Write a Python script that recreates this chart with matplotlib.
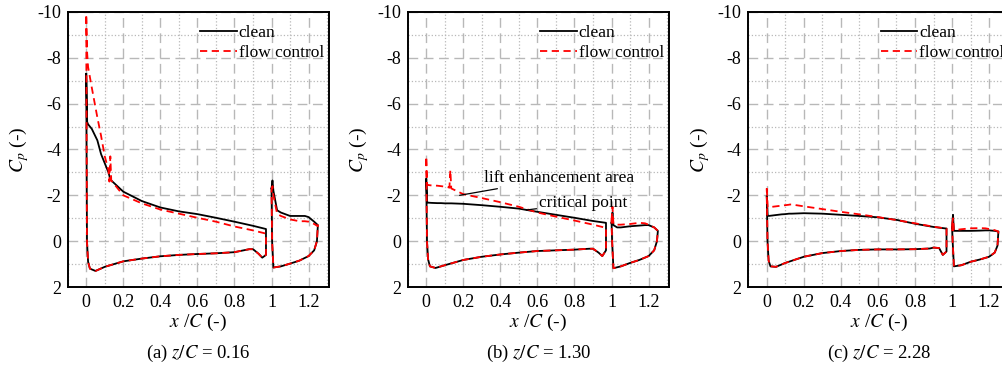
import matplotlib.pyplot as plt
import numpy as np
from matplotlib.ticker import MultipleLocator

plt.rcParams['font.family'] = ['Liberation Serif', 'DejaVu Serif']
plt.rcParams['mathtext.fontset'] = 'stix'
plt.rcParams['axes.unicode_minus'] = False

# chordwise stations (x/C)
x_up = [0, 0.005, 0.01, 0.03, 0.06, 0.08, 0.10, 0.12, 0.125, 0.13, 0.135,
        0.2, 0.3, 0.4, 0.5, 0.6, 0.7, 0.8, 0.9, 0.97]
x_lo = [0.004, 0.01, 0.02, 0.05, 0.1, 0.2, 0.3, 0.4, 0.5, 0.6, 0.7, 0.8,
        0.88, 0.9, 0.93, 0.95, 0.97]
xf_up = [1.0, 1.005, 1.01, 1.03, 1.05, 1.1, 1.15, 1.18, 1.2, 1.23, 1.25]
xf_lo = [1.003, 1.01, 1.05, 1.1, 1.15, 1.2, 1.23, 1.245, 1.25]

# z/C = 0.16
a_clean_up = [-7.3, -5.2, -5.1, -4.9, -4.4, -3.8, -3.4, -3.0, -2.85, -2.7, -2.65,
              -2.16, -1.75, -1.47, -1.3, -1.18, -1.02, -0.85, -0.67, -0.53]
a_fc_up = [-9.8, -8.2, -7.6, -6.7, -5.4, -4.6, -3.7, -3.1, -2.6, -3.7, -2.65,
           -2.0, -1.65, -1.38, -1.2, -1.02, -0.85, -0.64, -0.47, -0.33]
a_lo = [0.0, 0.9, 1.2, 1.3, 1.12, 0.88, 0.76, 0.66, 0.6, 0.56, 0.53, 0.48,
        0.35, 0.35, 0.55, 0.72, 0.6]
a_clean_fup = [-2.3, -2.65, -2.2, -1.35, -1.25, -1.1, -1.1, -1.1, -1.05, -0.85, -0.7]
a_fc_fup = [-2.2, -2.4, -2.0, -1.2, -1.1, -0.95, -0.87, -0.87, -0.85, -0.75, -0.65]
a_flo = [0.0, 1.15, 1.1, 0.98, 0.85, 0.65, 0.4, 0.0, -0.7]

# z/C = 1.30
b_clean_up = [-2.7, -1.7, -1.68, -1.67, -1.66, -1.66, -1.65, -1.65, -1.65, -1.65, -1.65,
              -1.63, -1.57, -1.5, -1.42, -1.28, -1.15, -1.02, -0.88, -0.8]
b_fc_up = [-3.6, -2.45, -2.45, -2.43, -2.42, -2.4, -2.38, -2.35, -2.33, -3.1, -2.3,
           -2.05, -1.88, -1.7, -1.5, -1.25, -1.07, -0.9, -0.72, -0.58]
b_lo = [0.0, 0.8, 1.1, 1.17, 1.05, 0.82, 0.68, 0.58, 0.5, 0.43, 0.4, 0.37,
        0.33, 0.33, 0.5, 0.65, 0.4]
b_clean_fup = [-0.8, -1.25, -0.7, -0.6, -0.6, -0.65, -0.68, -0.7, -0.7, -0.6, -0.45]
b_fc_fup = [-0.9, -1.5, -0.75, -0.72, -0.72, -0.75, -0.8, -0.78, -0.72, -0.6, -0.45]
b_flo = [0.0, 1.18, 1.1, 0.95, 0.82, 0.65, 0.4, 0.0, -0.45]

# z/C = 2.28
c_clean_up = [-1.95, -1.12, -1.1, -1.12, -1.15, -1.17, -1.18, -1.2, -1.2, -1.2, -1.2,
              -1.22, -1.2, -1.15, -1.1, -1.04, -0.93, -0.76, -0.62, -0.55]
c_fc_up = [-2.3, -1.48, -1.48, -1.5, -1.53, -1.55, -1.57, -1.59, -1.6, -1.6, -1.6,
           -1.52, -1.4, -1.28, -1.17, -1.05, -0.92, -0.78, -0.63, -0.55]
c_lo = [0.0, 0.85, 1.1, 1.12, 0.95, 0.68, 0.52, 0.43, 0.38, 0.36, 0.36, 0.35,
        0.32, 0.28, 0.3, 0.6, 0.45]
c_clean_fup = [-0.6, -1.15, -0.45, -0.45, -0.45, -0.45, -0.46, -0.47, -0.47, -0.45, -0.42]
c_fc_fup = [-0.7, -1.0, -0.48, -0.5, -0.52, -0.56, -0.57, -0.56, -0.53, -0.48, -0.42]
c_flo = [0.0, 1.1, 1.05, 0.9, 0.8, 0.68, 0.5, 0.2, -0.42]

captions = ['(a) $z/C$ = 0.16', '(b) $z/C$ = 1.30', '(c) $z/C$ = 2.28']
panels = [
    (a_clean_up, a_fc_up, a_lo, a_clean_fup, a_fc_fup, a_flo),
    (b_clean_up, b_fc_up, b_lo, b_clean_fup, b_fc_fup, b_flo),
    (c_clean_up, c_fc_up, c_lo, c_clean_fup, c_fc_fup, c_flo),
]


def loop(xu, cu, xl, cl):
    # upper surface LE->TE, back along lower surface TE->LE, close at LE
    xs = np.r_[xu, xl[::-1], xu[0]]
    cs = np.r_[cu, cl[::-1], cu[0]]
    return xs, cs


fig = plt.figure(figsize=(10.03, 3.76), dpi=100)
lefts = [0.0675, 0.4065, 0.746]
width = 0.2605

for i, (cu, fu, lo, cfu, ffu, flo) in enumerate(panels):
    ax = fig.add_axes([lefts[i], 0.2367, width, 0.7314])

    for up, fup, style in [(cu, cfu, dict(color='black', ls='-', lw=1.3, label='clean')),
                           (fu, ffu, dict(color='red', ls=(0, (4, 2.5)), lw=1.3, label='flow control'))]:
        xs, cs = loop(x_up, up, x_lo, lo)
        ax.plot(xs, cs, **style)
        style.pop('label')
        xs, cs = loop(xf_up, fup, xf_lo, flo)
        ax.plot(xs, cs, **style)

    ax.set_xlim(-0.1, 1.31)
    ax.set_ylim(2, -10)
    ax.xaxis.set_minor_locator(MultipleLocator(0.1))
    ax.yaxis.set_major_locator(MultipleLocator(2))
    ax.yaxis.set_minor_locator(MultipleLocator(1))
    ax.set_xticks([0, 0.2, 0.4, 0.6, 0.8, 1.0, 1.2])
    ax.set_xticklabels(['0', '0.2', '0.4', '0.6', '0.8', '1', '1.2'])
    ax.grid(which='major', color='#b8b8b8', ls=(0, (7, 4)), lw=1.0)
    ax.grid(which='minor', color='#b8b8b8', ls=':', lw=0.9)
    ax.set_axisbelow(True)
    ax.tick_params(which='both', length=0, labelsize=13, pad=5)
    for s in ax.spines.values():
        s.set_linewidth(1.4)

    ax.set_xlabel('$x$ /$C$ (-)', fontsize=14, labelpad=1)
    ax.set_ylabel('$C_p$ (-)', fontsize=14, labelpad=4)
    ax.legend(loc='upper right', bbox_to_anchor=(1.03, 1.0), frameon=False,
              fontsize=12.5, handlelength=2.1, handletextpad=0.1,
              labelspacing=0.22, borderaxespad=0.35)
    ax.text(lefts[i] + 0.5 * width, 0.06, captions[i], transform=fig.transFigure,
            ha='center', va='center', fontsize=13.5)

    if i == 1:
        ax.annotate('lift enhancement area', xy=(0.18, -2.0), xytext=(0.31, -2.76),
                    fontsize=12.5, va='center',
                    arrowprops=dict(arrowstyle='-', color='black', lw=0.9,
                                    shrinkA=0, shrinkB=0))
        ax.annotate('critical point', xy=(0.54, -1.36), xytext=(0.61, -1.67),
                    fontsize=12.5, va='center',
                    arrowprops=dict(arrowstyle='-', color='black', lw=0.9,
                                    shrinkA=0, shrinkB=0))

fig.savefig('out.png', dpi=100)
